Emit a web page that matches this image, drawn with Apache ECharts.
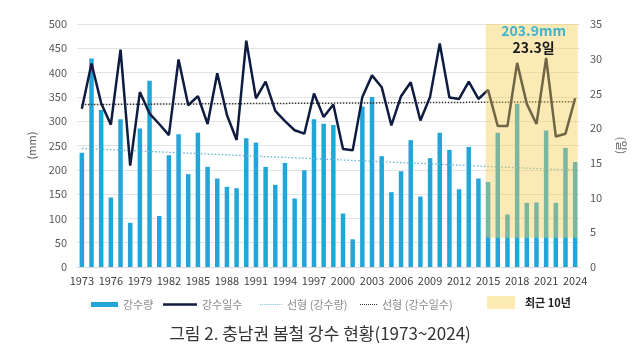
<!DOCTYPE html>
<html>
<head>
<meta charset="utf-8">
<script src="https://cdn.jsdelivr.net/npm/echarts@6/dist/echarts.min.js"></script>
<style>
html,body{margin:0;padding:0;background:#fff;}
#c{width:640px;height:353px;}
</style>
</head>
<body>
<div id="c"></div>
<script>
var years = [];
for (var y = 1973; y <= 2024; y++) years.push(String(y));

var precip = [235,429,323,143,304,91,285,383,105,230,273,191,276,206,182,165,162,265,256,206,169,214,141,199,304,295,292,110,57,330,350,228,154,197,261,145,224,276,241,160,247,182,175,276,108,336,132,133,281,132,245,216];
var days = [22.8,29.3,23.6,20.5,31.3,14.6,25.2,22.1,20.6,19.0,29.9,23.3,24.6,20.6,27.9,21.9,18.3,32.6,24.3,26.7,22.5,21.0,19.7,19.2,25.0,21.6,23.4,17.0,16.8,24.5,27.6,25.9,20.4,24.6,26.6,21.1,24.5,32.2,24.4,24.2,26.7,24.2,25.5,20.3,20.3,29.4,23.5,20.6,30.1,18.8,19.2,24.3];
var precipTrend = [244, 199];
var daysTrend = [23.4, 23.8];
var recentRange = ['2015', '2024'];
var recentBox = [60, 500];
var recentPrecipText = '203.9mm';
var recentDaysText = '23.3일';
var titleText = '그림 2. 충남권 봄철 강수 현황(1973~2024)';

var FONT = '"Noto Sans CJK KR", "Noto Sans", sans-serif';
var chart = echarts.init(document.getElementById('c'), null, {renderer: 'canvas'});

function dots(n) {
  var s = 'path://';
  for (var i = 0; i < n; i++) s += 'M' + (i * 2) + ',0h1v1h-1z';
  return s;
}

function lg(name, left, opts) {
  var item = Object.assign({name: name}, opts.item || {});
  return Object.assign({
    data: [item],
    left: left,
    top: 294,
    itemGap: 0,
    selectedMode: false,
    textStyle: {fontFamily: FONT, fontSize: 11, color: '#8a8a8a'}
  }, opts.legend || {});
}

var option = {
  backgroundColor: '#ffffff',
  animation: false,
  title: {
    text: titleText,
    left: 'center',
    top: 320,
    textStyle: {fontFamily: FONT, fontSize: 17, fontWeight: 'normal', color: '#333333'}
  },
  legend: [
    lg('강수량', 86, {item: {icon: 'rect'}, legend: {itemWidth: 27, itemHeight: 5}}),
    lg('강수일수', 158, {item: {icon: 'rect', itemStyle: {color: '#0f1c3f'}}, legend: {itemWidth: 34, itemHeight: 2.5}}),
    lg('선형 (강수량)', 255, {item: {icon: dots(11), itemStyle: {color: '#7fc2de'}}, legend: {itemWidth: 22, itemHeight: 1.5}}),
    lg('선형 (강수일수)', 355, {item: {icon: dots(9), itemStyle: {color: '#333333'}}, legend: {itemWidth: 17, itemHeight: 1.5}}),
    lg('최근 10년', 482, {item: {icon: 'rect', itemStyle: {color: '#fcecb2'},
        textStyle: {fontWeight: 'bold', color: '#222222', fontSize: 11}},
        legend: {itemWidth: 28, itemHeight: 13, top: 291,
        textStyle: {fontFamily: FONT, fontSize: 11, color: '#222', padding: [0,0,0,5]}}})
  ],
  grid: {left: 77, right: 60, top: 24, bottom: 86},
  xAxis: {
    type: 'category',
    data: years,
    boundaryGap: true,
    axisLine: {show: true, lineStyle: {color: '#d9d9d9'}},
    axisTick: {show: false},
    axisLabel: {interval: 2, fontFamily: FONT, fontSize: 11, color: '#404040', margin: 8}
  },
  yAxis: [
    {
      type: 'value', min: 0, max: 500, interval: 50,
      name: '(mm)', nameLocation: 'middle', nameGap: 38, nameRotate: 90,
      nameTextStyle: {fontFamily: FONT, fontSize: 11, color: '#595959'},
      axisLine: {show: false}, axisTick: {show: false},
      axisLabel: {fontFamily: FONT, fontSize: 11, color: '#595959', margin: 10},
      splitLine: {lineStyle: {color: '#e3e3e3'}}
    },
    {
      type: 'value', min: 0, max: 35, interval: 5,
      name: '(일)', nameLocation: 'middle', nameGap: 36, nameRotate: -90,
      nameTextStyle: {fontFamily: FONT, fontSize: 11, color: '#595959'},
      axisLine: {show: false}, axisTick: {show: false},
      axisLabel: {fontFamily: FONT, fontSize: 11, color: '#595959', margin: 10},
      splitLine: {show: false}
    }
  ],
  series: [
    {
      name: '강수량', type: 'bar', yAxisIndex: 0, data: precip,
      barWidth: 4.5, itemStyle: {color: '#22a6d9'}, z: 2
    },
    {
      name: '선형 (강수량)', type: 'line', yAxisIndex: 0,
      data: [[years[0], precipTrend[0]], [years[years.length - 1], precipTrend[1]]],
      symbol: 'none', lineStyle: {color: '#5fb3d3', width: 1.3, type: [1.5, 2]},
      itemStyle: {color: '#5fb3d3'}, z: 3
    },
    {
      name: '선형 (강수일수)', type: 'line', yAxisIndex: 1,
      data: [[years[0], daysTrend[0]], [years[years.length - 1], daysTrend[1]]],
      symbol: 'none', lineStyle: {color: '#333333', width: 1.5, type: [1.5, 1.5]},
      itemStyle: {color: '#333333'}, z: 3
    },
    {
      name: '강수일수', type: 'line', yAxisIndex: 1, data: days,
      symbol: 'none', lineStyle: {color: '#0f1c3f', width: 2.5},
      itemStyle: {color: '#0f1c3f'}, z: 4
    },
    {
      name: '최근 10년', type: 'custom', yAxisIndex: 0, z: 10, silent: true,
      itemStyle: {color: '#fcecb2'},
      data: [[years.indexOf(recentRange[0]), years.indexOf(recentRange[1]), recentBox[0], recentBox[1]]],
      encode: {x: [0, 1], y: [2, 3]},
      renderItem: function (params, api) {
        var p1 = api.coord([api.value(0), api.value(3)]);
        var p2 = api.coord([api.value(1), api.value(2)]);
        var pad = 2.5;
        return {
          type: 'group',
          children: [
            {
              type: 'rect',
              shape: {x: p1[0] - pad, y: p1[1], width: p2[0] - p1[0] + 2 * pad, height: p2[1] - p1[1]},
              style: {fill: 'rgba(246, 206, 82, 0.42)'}
            },
            {
              type: 'text',
              x: (p1[0] + p2[0]) / 2 + 2,
              y: p1[1] - 2,
              style: {
                text: '{a|' + recentPrecipText + '}\n{b|' + recentDaysText + '}',
                align: 'center', verticalAlign: 'top',
                rich: {
                  a: {fontFamily: FONT, fontSize: 14, fontWeight: 'bold', fill: '#3db3cf', lineHeight: 17, align: 'center'},
                  b: {fontFamily: FONT, fontSize: 14, fontWeight: 'bold', fill: '#1a1a1a', lineHeight: 17, align: 'center'}
                }
              }
            }
          ]
        };
      }
    }
  ]
};
chart.setOption(option);
</script>
</body>
</html>
